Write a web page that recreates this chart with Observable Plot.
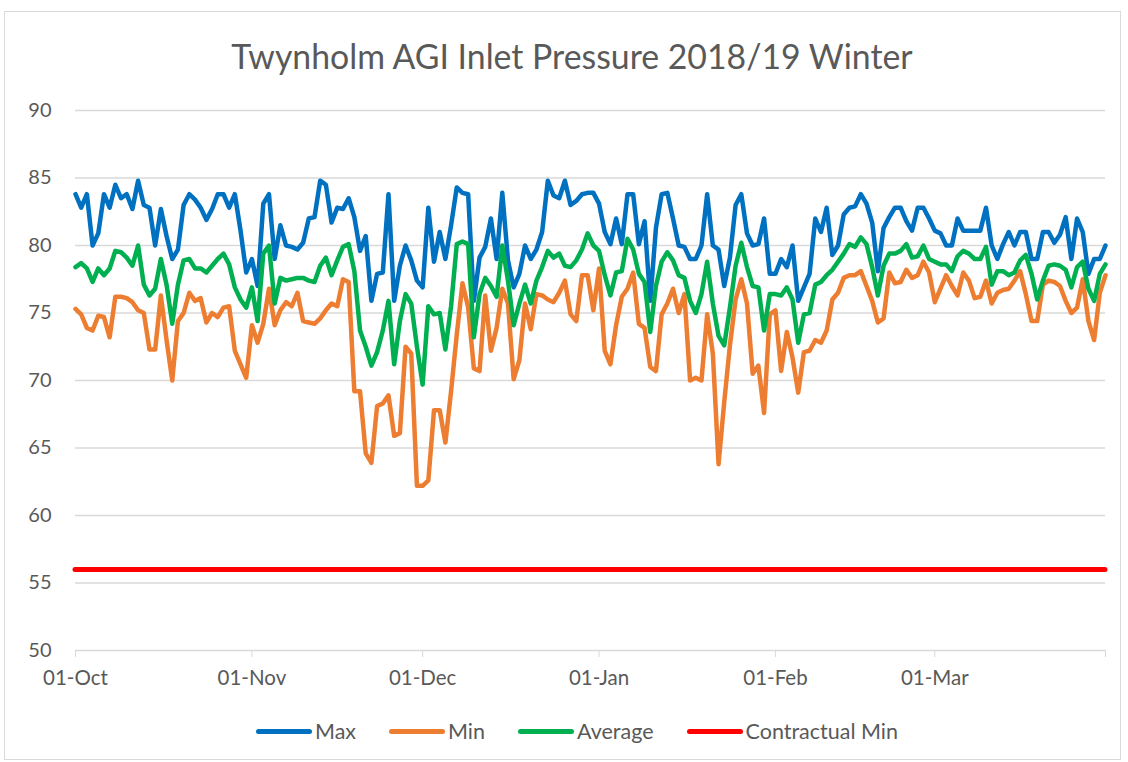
<!DOCTYPE html>
<html><head><meta charset="utf-8">
<script src="https://cdn.jsdelivr.net/npm/d3@7"></script>
<script src="https://cdn.jsdelivr.net/npm/@observablehq/plot@0.6"></script>
<style>
body{margin:0;background:#fff;font-family:Lato,"Open Sans",sans-serif;color:#595959;}
#wrap{position:relative;width:1128px;height:762px;overflow:hidden;}
#frame{position:absolute;left:4px;top:11px;width:1117px;height:749px;border:1px solid #d9d9d9;box-sizing:border-box;pointer-events:none;}
#title{height:90px;box-sizing:border-box;padding-top:36px;line-height:40px;font-size:33.8px;text-align:center;padding-left:16px;}
#legend{height:62px;display:flex;justify-content:center;align-items:center;font-size:21.5px;padding-left:26px;}
.item{display:flex;align-items:center;margin:0 16.5px;}
.sw{width:56px;height:5px;border-radius:3px;margin-right:3px;}
svg{display:block;}
</style></head>
<body><div id="wrap"><div id="frame"></div>
<div id="title">Twynholm AGI Inlet Pressure 2018/19 Winter</div>
<div id="chart"></div>
<div id="legend"></div>
</div>
<script>
const startDate = "2018-10-01";
const endDate = "2019-03-31";
const seriesNames = ["Max", "Min", "Average", "Contractual Min"];
const seriesColors = ["#0070C0", "#ED7D31", "#00B050", "#FF0000"];
const yTicks = [50, 55, 60, 65, 70, 75, 80, 85, 90];
const monthTicks = ["2018-10-01", "2018-11-01", "2018-12-01", "2019-01-01", "2019-02-01", "2019-03-01"];
const contractualMin = 56;

const maxValues = [83.8,82.8,83.8,80,80.9,83.8,82.8,84.5,83.5,83.8,82.7,84.8,83,82.8,80,82.7,80.7,79,79.7,83,
83.8,83.4,82.8,81.9,82.7,83.8,83.8,82.8,83.8,81.1,78,79,77,83.1,83.8,79,81.5,80,79.9,79.7,
80.2,82,82.1,84.8,84.5,81.7,82.8,82.7,83.5,82.1,79.6,80.7,75.9,77.9,78,83.8,75.9,78.5,80,78.9,
77.4,76.9,82.8,78.8,81,79,81.5,84.3,83.9,83.8,75.9,79.1,79.9,82,79,83.9,78.9,76.9,77.9,80,
79,79.7,81,84.8,83.7,83.5,84.8,83,83.3,83.8,83.9,83.9,83.1,81,80.1,82,80.1,83.8,83.8,80.1,
81.8,75.9,81.3,83.8,83.9,82,80,79.9,79,79,80,83.8,80,79.7,77,79.1,83,83.8,80.9,80,
80.1,82,77.9,77.9,79,78.4,80,75.9,76.9,77.9,82,81,82.8,79.3,80,82.3,82.8,82.9,83.8,83.1,
81.7,78.1,81.3,82.1,82.8,82.8,81.8,81.1,82.8,82.8,82,81.1,80.9,80,80,82,81.1,81.1,81.1,81.1,
82.8,80,79,80.1,81,80,81,81,79,79,81,81,80.2,80.8,82.1,79,82,81,77.9,79,
79,80];
const minValues = [75.3,74.9,73.9,73.7,74.8,74.7,73.2,76.2,76.2,76.1,75.8,75.2,75,72.3,72.3,76.3,73,70,74.4,75,
76.5,75.9,76.1,74.3,75,74.7,75.4,75.5,72.2,71.2,70.2,74.1,72.8,74.2,76.8,74.1,75.2,75.8,75.5,76.5,
74.4,74.3,74.2,74.6,75.2,75.7,75.5,77.5,77.3,69.2,69.2,64.6,63.9,68.1,68.3,68.9,65.9,66.1,72.5,72,
62.2,62.2,62.6,67.8,67.8,65.4,69.2,73.4,77.2,75.4,70.9,70.7,76.3,72.2,73.9,76.8,75.7,70.1,71.5,75.7,
73.8,76.4,76.3,76,75.8,76.5,77.4,74.9,74.4,77.8,77.8,75.2,78.3,72.2,71.2,74.1,76.2,76.8,78,74.2,
73.9,71,70.7,74.9,75.7,76.8,75,76.4,70,70.2,70,74.9,72,63.8,68.4,72.6,76,77.5,75.7,70.5,
71.1,67.6,74.9,75.2,70.7,73.6,71.7,69.1,72.1,72.2,73,72.8,73.7,76,76.5,77.6,77.8,77.8,78.1,77,
75.9,74.3,74.6,78,77.2,77.3,78.2,77.6,77.8,78.8,78,75.8,76.8,77.8,77,76.3,78,77.4,76.1,76.2,
77.4,75.7,76.5,76.7,76.8,77.4,78.1,76.4,74.4,74.4,77.1,77.4,77.3,77,75.9,75,75.4,77.5,74.4,73,
76.5,77.8];
const avgValues = [78.4,78.7,78.3,77.3,78.3,77.8,78.3,79.6,79.5,79.1,78.5,80,77.1,76.3,76.8,79,77.1,74.2,77.1,78.9,
79,78.3,78.3,78,78.5,79,79.4,78.6,76.9,76,75.4,76.9,74.4,79.4,80,75.7,77.6,77.4,77.5,77.6,
77.6,77.4,77.3,78.5,79.1,77.8,78.9,79.9,80.1,78.1,73.7,72.5,71.1,72.1,73.7,75.9,71.2,74.4,76.4,75.7,
72.5,69.7,75.5,74.9,75,72.3,75.5,80.1,80.3,80.1,73.2,76.4,77.6,77,76.2,80,77.4,74.1,75.7,77.1,
75.7,77.4,78.4,79.6,79.1,79.4,78.5,78.4,78.9,79.7,80.9,80,79.6,77.8,76.3,78,78.1,80.5,79.7,77.9,
77.3,73.6,77,78.8,79.5,78.9,77.8,77.6,75.9,75,76.4,78.8,75.7,73.3,72.6,75.4,78.5,80.2,78.4,77,
76.9,73.7,76.4,76.4,76.3,76.9,76,72.8,74.9,75,77.1,77.3,77.8,78.2,78.8,79.4,80.1,79.9,80.6,80.1,
78.4,76.3,78.5,79.4,79.4,79.6,80.1,79.1,79.2,80,79,78.8,78.6,78.6,78.1,79.2,79.6,79.4,79,79,
79.9,77.1,78.1,78.1,77.8,78,78.9,79.3,77.9,76,77.4,78.5,78.6,78.5,78.2,76.9,78.4,78.8,76.8,75.9,
77.9,78.6];

const parse = d3.utcParse("%Y-%m-%d");
const d0 = parse(startDate), d1 = parse(endDate);
const data = maxValues.map((v, i) => ({
  date: d3.utcDay.offset(d0, i),
  max: v, min: minValues[i], avg: avgValues[i]
}));
const tickDates = monthTicks.map(parse);
const fmt = d3.utcFormat("%d-%b");
const lineOpts = {strokeWidth: 4.5, strokeLinejoin: "round", strokeLinecap: "round"};

const chart = Plot.plot({
  width: 1128, height: 610,
  marginLeft: 75, marginRight: 23, marginTop: 20, marginBottom: 50,
  style: {fontFamily: "Lato, sans-serif", background: "white"},
  x: {type: "utc", domain: [d0, d1]},
  y: {domain: [50, 90]},
  marks: [
    Plot.gridY(yTicks, {stroke: "#d9d9d9", strokeOpacity: 1, strokeWidth: 1.4}),
    Plot.axisY(yTicks, {tickSize: 0, tickPadding: 24, fontSize: 20, color: "#595959", label: null}),
    Plot.axisX([...tickDates, d1], {tickSize: 7, color: "#d9d9d9", tickFormat: () => "", label: null}),
    Plot.axisX(tickDates, {tickSize: 0, tickPadding: 20, fontSize: 20.5, color: "#595959", tickFormat: fmt, label: null}),
    Plot.lineY(data, {x: "date", y: "max", stroke: seriesColors[0], ...lineOpts}),
    Plot.lineY(data, {x: "date", y: "min", stroke: seriesColors[1], ...lineOpts}),
    Plot.lineY(data, {x: "date", y: "avg", stroke: seriesColors[2], ...lineOpts}),
    Plot.ruleY([contractualMin], {stroke: seriesColors[3], strokeWidth: 5, strokeLinecap: "round"})
  ]
});
document.getElementById("chart").appendChild(chart);

const legend = document.getElementById("legend");
seriesNames.forEach((n, i) => {
  const it = document.createElement("div"); it.className = "item";
  const sw = document.createElement("div"); sw.className = "sw"; sw.style.background = seriesColors[i];
  const tx = document.createElement("span"); tx.textContent = n;
  it.appendChild(sw); it.appendChild(tx); legend.appendChild(it);
});
</script>
</body></html>
